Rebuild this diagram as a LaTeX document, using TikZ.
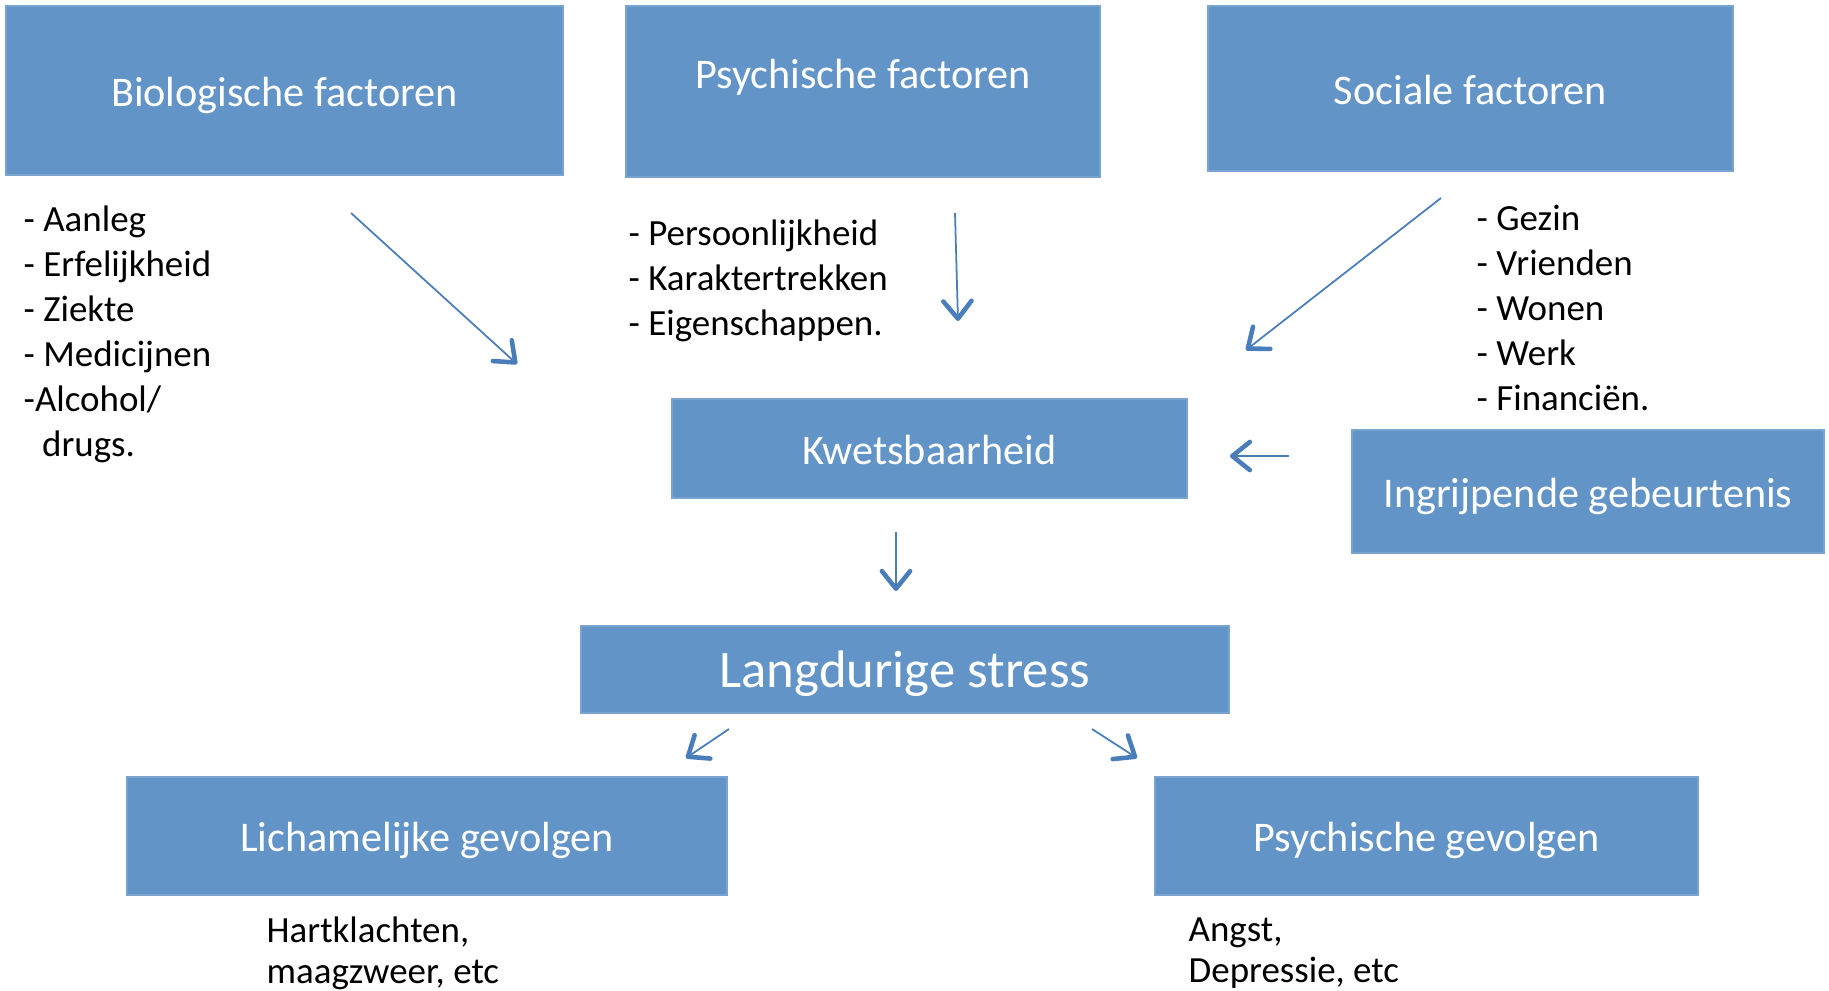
\documentclass[tikz,border=0pt]{standalone}
\usepackage{fontspec}
\setmainfont{Carlito}
\usetikzlibrary{arrows.meta}
\definecolor{boxblue}{RGB}{98,148,200}
\definecolor{arrowblue}{RGB}{74,126,187}
\tikzstyle{recNode} = [rectangle, text centered, inner sep=0pt, text height=10.5pt, text depth=1.5pt, draw=boxblue!85!white, fill=boxblue, text=white, font=\fontsize{12}{14.6}\selectfont]
\tikzstyle{listNode} = [anchor=west, align=left, inner sep=0pt, text=black, font=\fontsize{10.5}{12.8}\selectfont]
\tikzstyle{arrowB} = [line width=0.5pt, draw=arrowblue, -{Straight Barb[length=5pt, width=8pt, line width=1.3pt, round]}]

\begin{document}
\begin{tikzpicture}[x=0.01cm, y=-0.01cm]
        \useasboundingbox (0,0) rectangle (1829,990);
        % top row
        \node (bio) [recNode, minimum width=5.57cm, minimum height=1.69cm] at (284.5,90.5) {Biologische factoren};
        \node (psy) [recNode, minimum width=4.74cm, minimum height=1.71cm, text depth=12.4pt] at (863,91.5) {Psychische factoren};
        \node (soc) [recNode, minimum width=5.25cm, minimum height=1.65cm] at (1470.5,88.5) {Sociale factoren};
        % middle
        \node (kwets) [recNode, minimum width=5.15cm, minimum height=0.99cm] at (929.5,448.5) {Kwetsbaarheid};
        \node (ingr) [recNode, minimum width=4.72cm, minimum height=1.23cm] at (1588,491.5) {Ingrijpende gebeurtenis};
        \node (stress) [recNode, minimum width=6.48cm, minimum height=0.87cm, text height=13pt, text depth=2.5pt, font=\fontsize{15}{18}\selectfont] at (905,669.5) {Langdurige stress};
        % bottom row
        \node (lich) [recNode, minimum width=6.00cm, minimum height=1.18cm] at (427,836) {Lichamelijke gevolgen};
        \node (psygev) [recNode, minimum width=5.43cm, minimum height=1.18cm] at (1426.5,836) {Psychische gevolgen};

        % lists
        \node (bioList) [listNode] at (23,334) {- Aanleg\\- Erfelijkheid\\- Ziekte\\- Medicijnen\\-Alcohol/\\\hspace*{0.5em}drugs.};
        \node (psyList) [listNode] at (628,281) {- Persoonlijkheid\\- Karaktertrekken\\- Eigenschappen.};
        \node (socList) [listNode] at (1476,308) {- Gezin\\- Vrienden\\- Wonen\\- Werk\\- Financiën.};
        \node (lichList) [listNode, font=\fontsize{10.5}{11.7}\selectfont] at (266,953.5) {Hartklachten,\\maagzweer, etc};
        \node (psyGevList) [listNode, font=\fontsize{10.5}{11.7}\selectfont] at (1188,953.5) {Angst,\\Depressie, etc};

        % arrow ends
        \coordinate (bioA) at (351,213);
        \coordinate (bioB) at (517,364);
        \coordinate (psyA) at (955,213);
        \coordinate (psyB) at (958,321);
        \coordinate (socA) at (1441,198);
        \coordinate (socB) at (1246,350);
        \coordinate (ingrA) at (1289,456);
        \coordinate (ingrB) at (1230,456);
        \coordinate (kwetsA) at (896,532);
        \coordinate (kwetsB) at (896,591);
        \coordinate (lichA) at (729,729);
        \coordinate (lichB) at (686,758);
        \coordinate (gevA) at (1092,729);
        \coordinate (gevB) at (1137,758);

        \draw [arrowB] (bioA) -- (bioB);
        \draw [arrowB] (psyA) -- (psyB);
        \draw [arrowB] (socA) -- (socB);
        \draw [arrowB] (ingrA) -- (ingrB);
        \draw [arrowB] (kwetsA) -- (kwetsB);
        \draw [arrowB] (lichA) -- (lichB);
        \draw [arrowB] (gevA) -- (gevB);
\end{tikzpicture}
\end{document}
